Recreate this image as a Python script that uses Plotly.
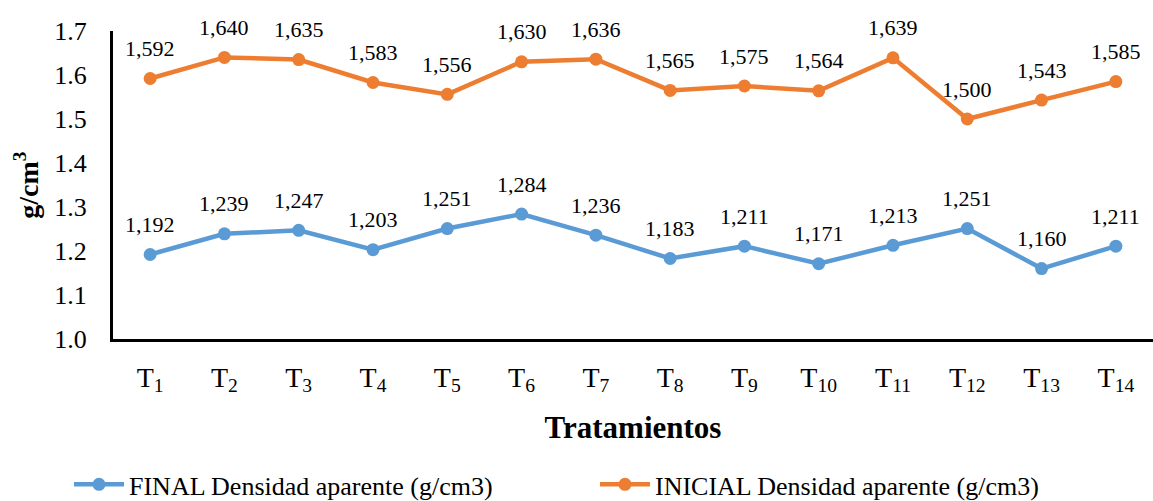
import plotly.graph_objects as go

categories = ["T<sub>%d</sub>" % i for i in range(1, 15)]
final_vals = [1.192, 1.239, 1.247, 1.203, 1.251, 1.284, 1.236, 1.183, 1.211, 1.171, 1.213, 1.251, 1.160, 1.211]
inicial_vals = [1.592, 1.640, 1.635, 1.583, 1.556, 1.630, 1.636, 1.565, 1.575, 1.564, 1.639, 1.500, 1.543, 1.585]
y_ticks = [1.0, 1.1, 1.2, 1.3, 1.4, 1.5, 1.6, 1.7]

def fmt(v):
    return ("%.3f" % v).replace(".", ",")

FONT = "Liberation Serif"

fig = go.Figure()
series = [
    ("FINAL Densidad aparente (g/cm3)", final_vals, "#5B9BD5", "legend"),
    ("INICIAL Densidad aparente (g/cm3)", inicial_vals, "#ED7D31", "legend2"),
]
for name, vals, color, lg in series:
    fig.add_trace(go.Scatter(
        x=categories, y=vals, mode="lines+markers", name=name, legend=lg,
        line=dict(color=color, width=4.5),
        marker=dict(color=color, size=13),
    ))
    for c, v in zip(categories, vals):
        fig.add_annotation(x=c, y=v, text=fmt(v), showarrow=False,
                           yshift=30, font=dict(family=FONT, size=22, color="#000000"))

legend_common = dict(orientation="h", xref="container", yref="container",
                     xanchor="left", yanchor="middle", y=0.033,
                     font=dict(family=FONT, size=26), itemwidth=50,
                     bgcolor="rgba(0,0,0,0)")

fig.update_layout(
    width=1153, height=501,
    margin=dict(l=113, r=0, t=31, b=162),
    paper_bgcolor="white", plot_bgcolor="white",
    font=dict(family=FONT, color="#000000"),
    showlegend=True,
    legend=dict(x=69 / 1153, **legend_common),
    legend2=dict(x=595 / 1153, **legend_common),
    xaxis=dict(
        range=[-0.5, 13.5], showline=True, linecolor="black", linewidth=3,
        showgrid=False, ticks="", tickfont=dict(family=FONT, size=28), tickangle=0,
        ticklabelstandoff=11, automargin=False,
        title=dict(text="<b>Tratamientos</b>", font=dict(family=FONT, size=31), standoff=21),
    ),
    yaxis=dict(
        range=[1.0, 1.7], tickvals=y_ticks, ticktext=["%.1f" % v for v in y_ticks],
        showline=True, linecolor="black", linewidth=3, showgrid=False, ticks="",
        tickfont=dict(family=FONT, size=26), ticklabelstandoff=18, zeroline=False,
        automargin=False,
        title=dict(text="<b>g/cm<sup>3</sup></b>", font=dict(family=FONT, size=28), standoff=8),
    ),
)

fig.write_html("out.html")
